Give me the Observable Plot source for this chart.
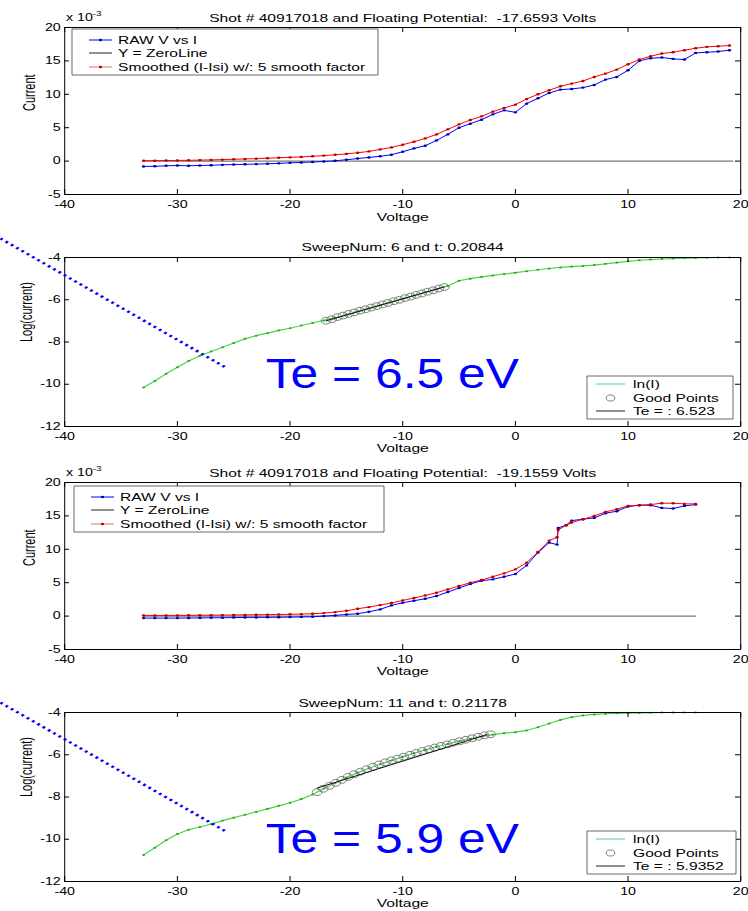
<!DOCTYPE html>
<html>
<head>
<meta charset="utf-8">
<script src="https://cdn.jsdelivr.net/npm/d3@7"></script>
<script src="https://cdn.jsdelivr.net/npm/@observablehq/plot@0.6"></script>
<style>
  body { margin: 0; background: #fff; }
  #chart { width: 748px; height: 911px; overflow: hidden; background: #fff; }
  #chart svg { display: block; }
  #chart svg path, #chart svg line, #chart svg rect, #chart svg circle { vector-effect: non-scaling-stroke; }
  #chart svg g.pointer path { vector-effect: none; }
</style>
</head>
<body>
<div id="chart"></div>
<script>
// ---------------- DATA ----------------
const xTicks = [-40, -30, -20, -10, 0, 10, 20];
const currentTicks = [-5, 0, 5, 10, 15, 20];
const logTicks = [-12, -10, -8, -6, -4];

const titles = [
  "Shot # 40917018 and Floating Potential:  -17.6593 Volts",
  "SweepNum: 6 and t: 0.20844",
  "Shot # 40917018 and Floating Potential:  -19.1559 Volts",
  "SweepNum: 11 and t: 0.21178"
];
const legendIV = ["RAW V vs I", "Y = ZeroLine", "Smoothed (I-Isi) w/: 5 smooth factor"];
const legendLog2 = ["ln(I)", "Good Points", "Te = : 6.523"];
const legendLog4 = ["ln(I)", "Good Points", "Te = : 5.9352"];
const teLabels = ["Te = 6.5 eV", "Te = 5.9 eV"];

// Sweep A (panels 1 and 2), volts
const voltsA = [-33,-32,-31,-30,-29,-28,-27,-26,-25,-24,-23,-22,-21,-20,-19,-18,-17,-16,-15,-14,-13,-12,-11,-10,-9,-8,-7,-6,-5,-4,-3,-2,-1,0,1,2,3,4,5,6,7,8,9,10,11,12,13,14,15,16,17,18,19];
// current x 1e-3
const raw1 = [-0.8,-0.78,-0.7,-0.66,-0.7,-0.66,-0.62,-0.56,-0.52,-0.48,-0.45,-0.4,-0.34,-0.26,-0.2,-0.14,-0.06,0.05,0.2,0.38,0.55,0.72,0.95,1.4,1.9,2.3,3.1,4.0,5.0,5.6,6.2,7.0,7.6,7.3,8.6,9.4,10.2,10.7,10.8,11.0,11.4,12.2,12.6,13.6,15.0,15.4,15.5,15.3,15.2,16.2,16.3,16.4,16.6];
const smooth1 = [0.05,0.06,0.08,0.1,0.12,0.15,0.18,0.22,0.27,0.32,0.37,0.43,0.5,0.56,0.63,0.72,0.82,0.95,1.08,1.25,1.45,1.75,2.05,2.45,2.9,3.4,4.0,4.75,5.5,6.15,6.7,7.4,7.95,8.45,9.3,10.0,10.6,11.2,11.6,12.0,12.6,13.1,13.7,14.5,15.2,15.7,16.1,16.3,16.6,16.9,17.1,17.2,17.3];
const zeroX1 = [-33, 19.3];
const zeroY = [0, 0];
// log current, sweep 6
const lnI2 = [-10.15,-9.85,-9.5,-9.2,-8.9,-8.65,-8.45,-8.25,-8.05,-7.85,-7.7,-7.58,-7.45,-7.35,-7.22,-7.1,-6.98,-6.85,-6.7,-6.55,-6.4,-6.25,-6.1,-5.95,-5.8,-5.65,-5.5,-5.35,-5.1,-5.0,-4.92,-4.85,-4.78,-4.72,-4.65,-4.58,-4.52,-4.47,-4.43,-4.4,-4.36,-4.3,-4.24,-4.18,-4.13,-4.1,-4.07,-4.05,-4.03,-4.02,-4.01,-4.0,-4.0];
const goodX2 = [-16.8,-16.3,-15.8,-15.3,-14.8,-14.3,-13.8,-13.3,-12.8,-12.3,-11.8,-11.3,-10.8,-10.3,-9.8,-9.3,-8.8,-8.3,-7.8,-7.3,-6.8,-6.3];
const goodY2 = [-6.99,-6.92,-6.82,-6.75,-6.67,-6.6,-6.52,-6.45,-6.37,-6.3,-6.22,-6.15,-6.07,-6.0,-5.92,-5.85,-5.77,-5.7,-5.62,-5.55,-5.47,-5.4];
const fitX2 = [-16.8, -6.3];
const fitY2 = [-7.0, -5.39];

// Sweep B (panel 3), volts
const volts3 = [-33,-32,-31,-30,-29,-28,-27,-26,-25,-24,-23,-22,-21,-20,-19,-18,-17,-16,-15,-14,-13,-12,-11,-10,-9,-8,-7,-6,-5,-4,-3,-2,-1,0,1,2,3,3.7,3.8,4.5,5,6,7,8,9,10,11,12,13,14,15,16];
const raw3 = [-0.3,-0.3,-0.3,-0.3,-0.28,-0.27,-0.25,-0.25,-0.22,-0.2,-0.2,-0.18,-0.17,-0.15,-0.12,-0.1,0.0,0.1,0.25,0.35,0.65,1.0,1.6,2.0,2.3,2.6,3.0,3.6,4.2,4.8,5.3,5.5,5.9,6.3,7.6,9.5,11.0,10.7,13.2,13.6,14.3,14.5,14.7,15.4,15.7,16.4,16.6,16.6,16.2,16.1,16.5,16.7];
const smooth3 = [0.1,0.1,0.1,0.1,0.12,0.13,0.14,0.15,0.17,0.18,0.2,0.22,0.24,0.27,0.3,0.35,0.45,0.6,0.8,1.1,1.35,1.65,1.95,2.35,2.7,3.1,3.5,4.0,4.5,5.0,5.4,5.9,6.4,7.0,8.0,9.6,11.3,11.8,12.9,13.6,14.0,14.5,15.0,15.6,16.0,16.5,16.6,16.7,16.9,16.9,16.8,16.8];
const zeroX3 = [-33, 16];

// Sweep 11 (panel 4)
const volts4 = [-33,-32,-31,-30,-29,-28,-27,-26,-25,-24,-23,-22,-21,-20,-19,-18,-17,-16,-15,-14,-13,-12,-11,-10,-9,-8,-7,-6,-5,-4,-3,-2,-1,0,1,2,3,4,5,6,7,8,9,10,11,12,13,14,15,16];
const lnI4 = [-10.75,-10.4,-10.05,-9.75,-9.55,-9.42,-9.28,-9.12,-8.98,-8.84,-8.7,-8.56,-8.42,-8.27,-8.1,-7.88,-7.6,-7.34,-7.08,-6.85,-6.64,-6.45,-6.27,-6.1,-5.93,-5.77,-5.62,-5.49,-5.36,-5.24,-5.14,-5.05,-4.98,-4.93,-4.85,-4.7,-4.52,-4.35,-4.22,-4.14,-4.09,-4.06,-4.04,-4.03,-4.02,-4.01,-4.0,-4.0,-4.0,-4.0];
const goodX4 = [-17.6,-17.05,-16.5,-15.95,-15.4,-14.85,-14.3,-13.75,-13.2,-12.65,-12.1,-11.55,-11.0,-10.45,-9.9,-9.35,-8.8,-8.25,-7.7,-7.15,-6.6,-6.05,-5.5,-4.95,-4.4,-3.85,-3.3,-2.75,-2.2];
const goodY4 = [-7.77,-7.61,-7.47,-7.33,-7.19,-7.05,-6.92,-6.8,-6.68,-6.57,-6.46,-6.36,-6.27,-6.18,-6.09,-6.0,-5.91,-5.82,-5.74,-5.66,-5.58,-5.51,-5.43,-5.36,-5.29,-5.22,-5.15,-5.08,-5.03];
const fitX4 = [-17.6, -2.5];
const fitY4 = [-7.58, -5.04];

// annotation pointer lines (dotted blue) and Te label anchors, in data units
const pointerX = [-45.7, -25.7];
const pointerY2 = [-3.1, -9.21];
const pointerY4 = [-3.53, -9.63];
const teX = [-22.16];
const teY2 = [-10.2];
const teY4 = [-10.63];

// ---------------- LAYOUT ----------------
const S = 1.42;            // horizontal stretch of the original figure
const W = 748 / S;
const ML = 64 / S, MR = 8 / S;
const FONT = "'Liberation Sans', Arimo, Arial, Helvetica, sans-serif";
const BLUE = "#0000ff", RED = "#ff0000", GREEN = "#3fd83f", GREEN_DOT = "#2f9f2f";

const chart = document.getElementById("chart");

function panel(o) {
  const frameW = W - ML - MR, frameH = o.height - o.mt - o.mb;
  const svg = Plot.plot({
    width: W, height: o.height,
    marginLeft: ML, marginRight: MR, marginTop: o.mt, marginBottom: o.mb,
    x: {domain: [-40, 20]},
    y: {domain: o.yDomain},
    style: {fontFamily: FONT, fontSize: "10px", background: "#fff", color: "#000", overflow: "visible"},
    marks: [
      ...o.marks,
      Plot.frame({stroke: "#000", strokeWidth: 1}),
      Plot.tickX(xTicks, {x: d => d, insetTop: frameH - 5, stroke: "#000"}),
      Plot.tickX(xTicks, {x: d => d, insetBottom: frameH - 5, stroke: "#000"}),
      Plot.tickY(o.yTicks, {y: d => d, insetRight: frameW - 5 / S, stroke: "#000"}),
      Plot.tickY(o.yTicks, {y: d => d, insetLeft: frameW - 5 / S, stroke: "#000"}),
      Plot.axisX({ticks: xTicks, tickSize: 0, tickPadding: o.tickPad, tickFormat: d => String(d), label: null}),
      Plot.axisY({ticks: o.yTicks, tickSize: 0, tickPadding: 4 / S, tickFormat: d => String(d), label: null}),
      Plot.text([o.title], {text: d => d, frameAnchor: "top", dy: o.titleY - o.mt, fontSize: 11}),
      Plot.text(["Voltage"], {text: d => d, frameAnchor: "bottom", dy: o.xLabelDy, fontSize: 11}),
      Plot.text([o.yLabel], {text: d => d, frameAnchor: "left", dx: (o.yLabelX - 64) / S, rotate: -90, fontSize: 11}),
      ...(o.over || [])
    ]
  });
  svg.setAttribute("preserveAspectRatio", "none");
  svg.setAttribute("width", 748);
  svg.style.width = "748px";
  svg.style.height = o.height + "px";
  svg.style.maxWidth = "none";
  const s = d3.select(svg);
  // big annotation text: narrower glyphs, scaled about its own anchor
  s.selectAll("text").filter(function () { return /eV$/.test(this.textContent); })
    .each(function () {
      const x = +(this.getAttribute("x") || 0), y = +(this.getAttribute("y") || 0);
      const t = this.getAttribute("transform") || "";
      this.setAttribute("transform", `${t} translate(${x},${y}) scale(0.835,1) translate(${-x},${-y})`);
    });
  if (o.exp) {
    const t = s.append("text").attr("x", 66 / S).attr("y", o.exp).attr("font-size", 10)
      .attr("text-anchor", "start").attr("font-family", FONT).attr("fill", "#000");
    t.append("tspan").text("x 10");
    t.append("tspan").attr("font-size", 7).attr("dy", -5).text("-3");
  }
  if (o.legend) addLegend(s, o.legend);
  chart.appendChild(svg);
}

function addLegend(s, L) {
  const g = s.append("g").attr("font-family", FONT).attr("font-size", 11).attr("text-anchor", "start");
  g.append("rect").attr("x", L.x / S).attr("y", L.y).attr("width", L.w / S).attr("height", L.h)
    .attr("fill", "#fff").attr("stroke", "#444").attr("stroke-width", 0.8);
  L.rows.forEach(r => {
    if (r.line) g.append("line").attr("x1", L.s1 / S).attr("x2", L.s2 / S).attr("y1", r.y).attr("y2", r.y)
      .attr("stroke", r.line).attr("stroke-width", 1);
    if (r.dot) g.append("circle").attr("cx", (L.s1 + L.s2) / 2 / S).attr("cy", r.y).attr("r", 1.2).attr("fill", r.dot);
    if (r.ring) g.append("circle").attr("cx", (L.s1 + L.s2) / 2 / S).attr("cy", r.y).attr("r", 3)
      .attr("fill", "none").attr("stroke", r.ring).attr("stroke-width", 0.9);
    g.append("text").attr("x", L.tx / S).attr("y", r.y).attr("dy", "0.35em").attr("fill", "#000")
      .attr("text-anchor", "start").text(r.label);
  });
}

const ivMarks = (volts, raw, smooth, zeroX) => [
  Plot.line(zeroX, {x: d => d, y: (d, i) => zeroY[i], stroke: "#555", strokeWidth: 1}),
  Plot.line(volts, {x: d => d, y: (d, i) => raw[i], stroke: BLUE, strokeWidth: 1}),
  Plot.dot(volts, {x: d => d, y: (d, i) => raw[i], r: 1.2, fill: "#0000b0", stroke: "none"}),
  Plot.line(volts, {x: d => d, y: (d, i) => smooth[i], stroke: RED, strokeWidth: 1}),
  Plot.dot(volts, {x: d => d, y: (d, i) => smooth[i], r: 1.2, fill: "#c00000", stroke: "none"})
];

const logMarks = (volts, lnI, gx, gy, fx, fy) => [
  Plot.line(volts, {x: d => d, y: (d, i) => lnI[i], stroke: GREEN, strokeWidth: 1.2}),
  Plot.dot(volts, {x: d => d, y: (d, i) => lnI[i], r: 1, fill: GREEN_DOT, stroke: "none"}),
  Plot.dot(gx, {x: d => d, y: (d, i) => gy[i], r: 3.4, fill: "none", stroke: "#707070", strokeWidth: 0.9}),
  Plot.line(fx, {x: d => d, y: (d, i) => fy[i], stroke: "#111", strokeWidth: 1})
];

const annot = (py, ty, label) => [
  Plot.line(pointerX, {x: d => d, y: (d, i) => py[i], stroke: BLUE, strokeWidth: 2.4, strokeDasharray: "1.9 2.9",
    strokeLinecap: "butt", className: "pointer"}),
  Plot.text([label], {text: d => d, x: () => teX[0], y: () => ty[0], fontSize: 42, fill: BLUE,
    textAnchor: "start", lineAnchor: "bottom", fontFamily: FONT})
];

const ivLegend = (y0, x0, w) => ({
  x: x0, y: y0, w: w, h: 46, s1: x0 + 17, s2: x0 + 40, tx: x0 + 46,
  rows: [
    {y: y0 + 11, label: legendIV[0], line: BLUE, dot: "#0000b0"},
    {y: y0 + 24, label: legendIV[1], line: "#222"},
    {y: y0 + 38, label: legendIV[2], line: "#e07070", dot: "#c00000"}
  ]
});
const logLegend = (y0, labels, w) => ({
  x: 587, y: y0, w: w, h: 43, s1: 596, s2: 625, tx: 633,
  rows: [
    {y: y0 + 8, label: labels[0], line: "#4fd08f"},
    {y: y0 + 22, label: labels[1], ring: "#707070"},
    {y: y0 + 35, label: labels[2], line: "#222"}
  ]
});

panel({height: 228, mt: 27, mb: 34, yDomain: [-5, 20], yTicks: currentTicks, title: titles[0], titleY: 14,
  tickPad: 6, xLabelDy: 26, yLabel: "Current", yLabelX: 29, exp: 21,
  marks: ivMarks(voltsA, raw1, smooth1, zeroX1), legend: ivLegend(29, 72, 306)});

panel({height: 228, mt: 29, mb: 30, yDomain: [-12, -4], yTicks: logTicks, title: titles[1], titleY: 15,
  tickPad: 6, xLabelDy: 25, yLabel: "Log(current)", yLabelX: 26,
  marks: logMarks(voltsA, lnI2, goodX2, goodY2, fitX2, fitY2), over: annot(pointerY2, teY2, teLabels[0]),
  legend: logLegend(148, legendLog2, 146)});

panel({height: 228, mt: 26, mb: 35, yDomain: [-5, 20], yTicks: currentTicks, title: titles[2], titleY: 13,
  tickPad: 6, xLabelDy: 25, yLabel: "Current", yLabelX: 29, exp: 20,
  marks: ivMarks(volts3, raw3, smooth3, zeroX3), legend: ivLegend(30, 74, 310)});

panel({height: 227, mt: 28, mb: 30, yDomain: [-12, -4], yTicks: logTicks, title: titles[3], titleY: 15,
  tickPad: 6, xLabelDy: 25, yLabel: "Log(current)", yLabelX: 26,
  marks: logMarks(volts4, lnI4, goodX4, goodY4, fitX4, fitY4), over: annot(pointerY4, teY4, teLabels[1]),
  legend: logLegend(147, legendLog4, 149)});
</script>
</body>
</html>
